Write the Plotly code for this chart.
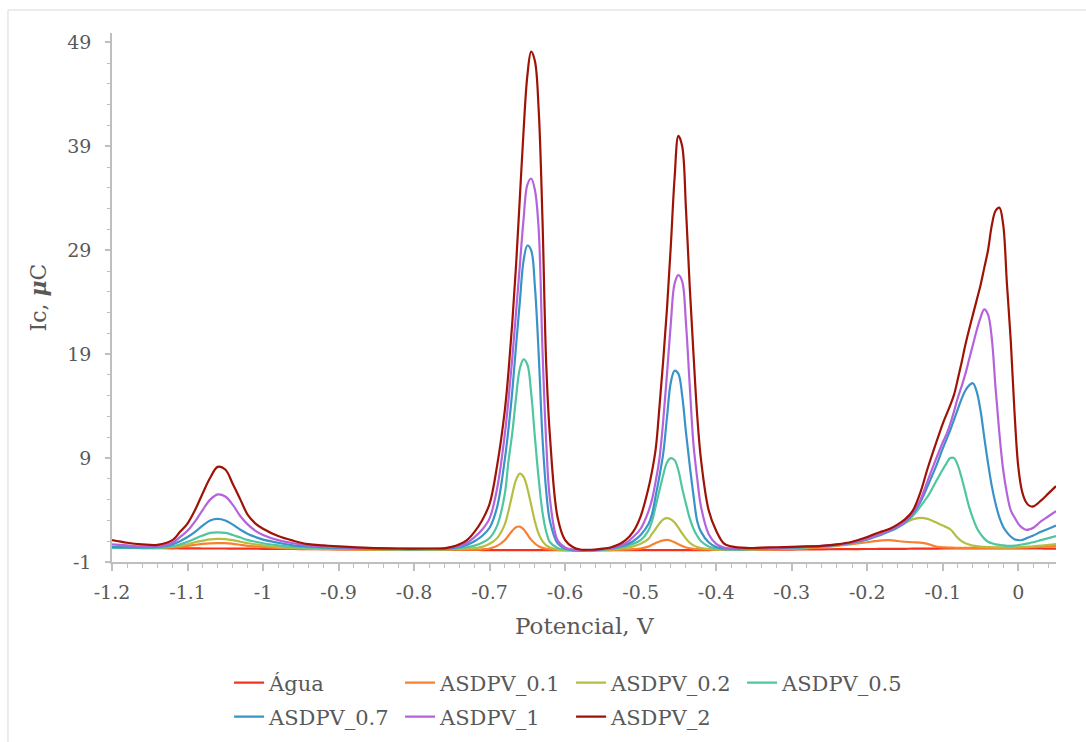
import plotly.graph_objects as go

# Potential (V) sample points
potencial = [
    -1.20, -1.18, -1.16, -1.14, -1.12, -1.11, -1.10, -1.09, -1.08, -1.07, -1.06, -1.05, -1.04, -1.03, -1.02, -1.01, -1.00, -0.98, -0.96, -0.94, -0.92, -0.90,
    -0.86, -0.82, -0.78, -0.76,
    -0.75, -0.74, -0.73, -0.72, -0.71, -0.70, -0.69, -0.68,
    -0.675, -0.67, -0.665, -0.66, -0.655, -0.65, -0.645, -0.64, -0.635, -0.63, -0.625, -0.62,
    -0.61, -0.60, -0.59, -0.58, -0.57, -0.56, -0.55, -0.54, -0.53, -0.52, -0.51, -0.50, -0.49,
    -0.485, -0.48, -0.475, -0.47, -0.465, -0.46, -0.455, -0.45, -0.445, -0.44, -0.435, -0.43, -0.425, -0.42,
    -0.41, -0.40, -0.39, -0.38,
    -0.36, -0.34, -0.32, -0.30, -0.28, -0.26, -0.24, -0.22, -0.20,
    -0.19, -0.18, -0.17, -0.16, -0.15, -0.14, -0.13, -0.12, -0.11, -0.10,
    -0.095, -0.09, -0.085, -0.08, -0.075, -0.07, -0.065, -0.06, -0.055, -0.05, -0.045, -0.04, -0.035, -0.03, -0.025, -0.02, -0.015, -0.01, -0.005, 0.00, 0.005, 0.01, 0.015, 0.02,
    0.03, 0.04, 0.05,
]

agua = [
    0.35, 0.35, 0.34, 0.33, 0.32, 0.32, 0.31, 0.31, 0.30, 0.30, 0.30, 0.30, 0.29, 0.29, 0.28, 0.28, 0.27, 0.26, 0.25, 0.24, 0.23, 0.22,
    0.20, 0.18, 0.17, 0.16,
    0.16, 0.16, 0.16, 0.16, 0.15, 0.15, 0.15, 0.15,
    0.15, 0.15, 0.15, 0.15, 0.15, 0.15, 0.15, 0.15, 0.15, 0.15, 0.15, 0.15,
    0.15, 0.14, 0.14, 0.14, 0.14, 0.14, 0.14, 0.14, 0.14, 0.14, 0.15, 0.15, 0.15,
    0.15, 0.15, 0.15, 0.15, 0.15, 0.15, 0.15, 0.15, 0.15, 0.15, 0.15, 0.15, 0.15, 0.15,
    0.15, 0.16, 0.16, 0.16,
    0.17, 0.18, 0.19, 0.20, 0.21, 0.22, 0.23, 0.24, 0.25,
    0.25, 0.26, 0.26, 0.27, 0.27, 0.28, 0.28, 0.29, 0.29, 0.30,
    0.30, 0.30, 0.30, 0.30, 0.30, 0.30, 0.30, 0.30, 0.30, 0.30, 0.30, 0.30, 0.30, 0.30, 0.30, 0.30, 0.30, 0.30, 0.30, 0.30, 0.30, 0.30, 0.30, 0.30,
    0.30, 0.29, 0.28,
]

asdpv_01 = [
    0.35, 0.35, 0.35, 0.35, 0.40, 0.45, 0.55, 0.65, 0.75, 0.80, 0.82, 0.82, 0.75, 0.65, 0.55, 0.50, 0.45, 0.35, 0.30, 0.26, 0.24, 0.22,
    0.20, 0.19, 0.18, 0.18,
    0.18, 0.18, 0.18, 0.19, 0.22, 0.30, 0.55, 1.10,
    1.55, 2.00, 2.35, 2.40, 2.15, 1.65, 1.15, 0.78, 0.52, 0.36, 0.27, 0.22,
    0.17, 0.14, 0.12, 0.10, 0.11, 0.12, 0.13, 0.15, 0.17, 0.20, 0.24, 0.30, 0.48,
    0.65, 0.82, 0.98, 1.08, 1.12, 1.05, 0.90, 0.70, 0.53, 0.40, 0.32, 0.26, 0.23, 0.21,
    0.19, 0.17, 0.17, 0.17,
    0.18, 0.20, 0.22, 0.26, 0.32, 0.42, 0.55, 0.72, 0.90,
    1.00, 1.08, 1.10, 1.02, 0.95, 0.90, 0.87, 0.75, 0.50, 0.42,
    0.40, 0.38, 0.37, 0.36, 0.35, 0.35, 0.35, 0.35, 0.35, 0.35, 0.35, 0.35, 0.35, 0.35, 0.35, 0.35, 0.36, 0.37, 0.38, 0.39, 0.40, 0.41, 0.42, 0.43,
    0.46, 0.50, 0.55,
]

asdpv_02 = [
    0.35, 0.35, 0.35, 0.36, 0.45, 0.55, 0.70, 0.90, 1.05, 1.18, 1.22, 1.20, 1.10, 0.95, 0.80, 0.70, 0.60, 0.45, 0.36, 0.30, 0.28, 0.25,
    0.22, 0.20, 0.20, 0.20,
    0.22, 0.24, 0.28, 0.33, 0.45, 0.75, 1.30, 2.60,
    3.90, 5.50, 6.90, 7.50, 7.20, 6.10, 4.50, 2.90, 1.70, 1.00, 0.60, 0.40,
    0.22, 0.14, 0.11, 0.10, 0.11, 0.13, 0.16, 0.20, 0.25, 0.35, 0.50, 0.75, 1.20,
    1.70, 2.20, 2.70, 3.10, 3.22, 3.10, 2.80, 2.30, 1.75, 1.25, 0.85, 0.60, 0.45, 0.35,
    0.25, 0.20, 0.20, 0.20,
    0.20, 0.23, 0.27, 0.32, 0.40, 0.48, 0.62, 0.85, 1.20,
    1.45, 1.70, 2.00, 2.35, 2.75, 3.10, 3.25, 3.15, 2.85, 2.50,
    2.35, 2.15, 1.75, 1.30, 1.00, 0.80, 0.68, 0.58, 0.52, 0.48, 0.45, 0.43, 0.42, 0.41, 0.40, 0.40, 0.40, 0.40, 0.41, 0.42, 0.44, 0.46, 0.48, 0.50,
    0.57, 0.64, 0.72,
]

asdpv_05 = [
    0.35, 0.35, 0.35, 0.36, 0.50, 0.70, 0.95, 1.25, 1.55, 1.80, 1.85, 1.80, 1.60, 1.35, 1.10, 0.95, 0.80, 0.60, 0.45, 0.38, 0.33, 0.30,
    0.25, 0.22, 0.22, 0.23,
    0.25, 0.32, 0.42, 0.58, 0.85, 1.30, 2.50, 5.50,
    8.70, 11.4, 14.8, 17.6, 18.5, 18.0, 15.3, 11.0, 7.00, 3.80, 1.90, 0.90,
    0.35, 0.20, 0.12, 0.10, 0.12, 0.15, 0.20, 0.25, 0.35, 0.50, 0.75, 1.10, 2.00,
    2.90, 4.40, 5.90, 7.40, 8.60, 9.00, 8.80, 7.80, 6.10, 4.60, 3.20, 2.20, 1.50, 1.00,
    0.50, 0.30, 0.22, 0.20,
    0.22, 0.26, 0.30, 0.35, 0.42, 0.50, 0.62, 0.82, 1.15,
    1.40, 1.65, 1.95, 2.30, 2.75, 3.40, 4.30, 5.30, 6.60, 7.90,
    8.50, 9.00, 9.00, 8.30, 7.10, 5.70, 4.30, 3.20, 2.30, 1.70, 1.25, 0.95, 0.80, 0.70, 0.65, 0.60, 0.56, 0.55, 0.57, 0.62, 0.68, 0.75, 0.82, 0.90,
    1.10, 1.30, 1.50,
]

asdpv_07 = [
    0.45, 0.40, 0.40, 0.45, 0.70, 1.00, 1.40, 1.90, 2.50, 3.00, 3.15, 3.00, 2.60, 2.10, 1.70, 1.40, 1.15, 0.85, 0.60, 0.50, 0.40, 0.35,
    0.28, 0.25, 0.25, 0.28,
    0.32, 0.45, 0.65, 1.00, 1.50, 2.30, 4.30, 8.80,
    11.8, 15.4, 19.8, 24.0, 28.0, 29.45, 29.0, 25.5, 19.0, 11.0, 5.80, 2.90,
    0.80, 0.30, 0.15, 0.10, 0.12, 0.15, 0.20, 0.30, 0.45, 0.65, 1.00, 1.60, 2.60,
    3.60, 5.40, 7.30, 9.50, 13.0, 16.3, 17.4, 17.1, 15.0, 11.5, 8.30, 5.40, 2.90, 1.90,
    0.90, 0.45, 0.30, 0.25,
    0.25, 0.28, 0.32, 0.38, 0.45, 0.52, 0.65, 0.85, 1.20,
    1.45, 1.70, 2.00, 2.35, 2.80, 3.60, 4.70, 6.30, 8.00, 9.90,
    10.8, 11.7, 12.7, 13.7, 14.7, 15.5, 16.0, 16.2, 15.4, 13.6, 11.0, 8.50, 6.30, 4.60, 3.30, 2.40, 1.85, 1.45, 1.20, 1.10, 1.12, 1.25, 1.40, 1.55,
    1.90, 2.20, 2.50,
]

asdpv_1 = [
    0.70, 0.60, 0.50, 0.50, 0.85, 1.40, 2.00, 2.90, 4.00, 5.00, 5.50, 5.30, 4.50, 3.40, 2.60, 2.00, 1.60, 1.10, 0.80, 0.60, 0.50, 0.42,
    0.32, 0.28, 0.27, 0.30,
    0.40, 0.55, 0.85, 1.40, 2.10, 3.20, 6.10, 11.2,
    14.6, 18.6, 23.0, 27.5, 32.0, 35.3, 35.9, 34.8, 31.0, 19.5, 10.5, 5.00,
    1.10, 0.40, 0.20, 0.12, 0.13, 0.18, 0.25, 0.35, 0.50, 0.80, 1.40, 2.20, 3.80,
    5.00, 6.80, 9.00, 12.7, 17.2, 22.0, 25.8, 26.6, 26.0, 22.0, 16.0, 10.3, 7.00, 4.30,
    1.70, 0.75, 0.40, 0.30,
    0.30, 0.33, 0.37, 0.42, 0.48, 0.55, 0.68, 0.88, 1.25,
    1.50, 1.75, 2.05, 2.40, 2.85, 3.70, 4.90, 6.80, 8.70, 10.5,
    11.3, 12.3, 13.5, 14.8, 15.9, 17.1, 18.5, 19.9, 21.3, 22.5, 23.3, 22.8, 20.5, 15.7, 11.4, 7.90, 5.60, 4.00, 3.30, 2.70, 2.30, 2.10, 2.15, 2.30,
    2.90, 3.40, 3.90,
]

asdpv_2 = [
    1.10, 0.85, 0.70, 0.65, 1.10, 1.90, 2.70, 4.00, 5.60, 7.10, 8.15, 7.90, 6.50, 5.00, 3.50, 2.70, 2.20, 1.50, 1.05, 0.72, 0.60, 0.50,
    0.35, 0.30, 0.30, 0.32,
    0.45, 0.70, 1.10, 1.90, 3.00, 4.60, 8.30, 13.5,
    17.3, 22.0, 27.5, 34.0, 40.5, 45.8, 48.1, 47.2, 42.5, 32.0, 18.0, 11.0,
    3.30, 1.10, 0.45, 0.20, 0.18, 0.20, 0.28, 0.40, 0.65, 1.10, 1.90, 3.40, 6.00,
    7.70, 9.90, 14.0, 18.5, 23.5, 29.5, 36.0, 40.0, 39.0, 33.0, 25.5, 19.0, 13.0, 8.80,
    4.00, 2.00, 0.80, 0.50,
    0.35, 0.38, 0.42, 0.46, 0.50, 0.56, 0.70, 0.95, 1.40,
    1.70, 1.95, 2.20, 2.60, 3.10, 3.90, 5.60, 8.00, 10.2, 12.3,
    13.2, 14.1, 15.1, 16.6, 18.2, 19.9, 21.4, 22.8, 24.2, 25.6, 27.3, 29.0, 31.4, 32.8, 33.1, 31.5, 25.8, 20.4, 13.5, 8.20, 5.80, 4.80, 4.40, 4.35,
    4.90, 5.60, 6.30,
]

series_names = ["Água", "ASDPV_0.1", "ASDPV_0.2", "ASDPV_0.5", "ASDPV_0.7", "ASDPV_1", "ASDPV_2"]
series_values = [agua, asdpv_01, asdpv_02, asdpv_05, asdpv_07, asdpv_1, asdpv_2]
series_colors = ["#F4331E", "#FA7F2E", "#B5BE42", "#4FC6A0", "#3A93C8", "#B563DB", "#9E1306"]
series_legend = ["legend", "legend", "legend", "legend", "legend2", "legend2", "legend2"]

x_tickvals = [-1.2, -1.1, -1.0, -0.9, -0.8, -0.7, -0.6, -0.5, -0.4, -0.3, -0.2, -0.1, 0.0]
x_ticktext = ["-1.2", "-1.1", "-1", "-0.9", "-0.8", "-0.7", "-0.6", "-0.5", "-0.4", "-0.3", "-0.2", "-0.1", "0"]
y_tickvals = [-1, 9, 19, 29, 39, 49]
y_ticktext = ["-1", "9", "19", "29", "39", "49"]

FONT = "DejaVu Serif"
TXT = "#595959"
AX = "#BFBFBF"

fig = go.Figure()
for name, vals, col, lg in zip(series_names, series_values, series_colors, series_legend):
    fig.add_trace(go.Scatter(
        x=potencial, y=vals, name=name, mode="lines", legend=lg,
        line=dict(color=col, width=2.2, shape="spline", smoothing=1.0),
    ))

legend_common = dict(
    orientation="h", xanchor="left", yanchor="middle", xref="paper", yref="container",
    font=dict(family=FONT, size=21, color=TXT),
    entrywidth=126, entrywidthmode="pixels",
    bgcolor="rgba(0,0,0,0)", borderwidth=0, itemclick=False,
)

fig.update_layout(
    width=1086, height=742,
    margin=dict(l=112, r=30, t=33, b=180, autoexpand=False),
    paper_bgcolor="white", plot_bgcolor="white",
    font=dict(family=FONT, color=TXT),
    legend=dict(x=0.124, y=1 - 683 / 742, **legend_common),
    legend2=dict(x=0.124, y=1 - 717 / 742, **legend_common),
    xaxis=dict(
        range=[-1.2, 0.05], tickmode="array", tickvals=x_tickvals, ticktext=x_ticktext,
        showline=True, linecolor=AX, linewidth=1.5, showgrid=False, zeroline=False,
        ticks="outside", ticklen=7, tickcolor=AX, tickwidth=1.5,
        tickfont=dict(family=FONT, size=19, color=TXT), ticklabelstandoff=5,
        minor=dict(ticks="outside", ticklen=4, tickcolor=AX, tickwidth=1.2, dtick=0.02, tick0=0, showgrid=False),
    ),
    yaxis=dict(
        range=[-1, 49.9], tickmode="array", tickvals=y_tickvals, ticktext=y_ticktext,
        showline=True, linecolor=AX, linewidth=1.5, showgrid=False, zeroline=False,
        ticks="outside", ticklen=5, tickcolor=AX, tickwidth=1.5,
        tickfont=dict(family=FONT, size=19, color=TXT), ticklabelstandoff=10,
        minor=dict(ticks="outside", ticklen=3, tickcolor=AX, tickwidth=1.2, dtick=2, tick0=-1, showgrid=False),
    ),
    annotations=[
        dict(text="Potencial, V", xref="paper", yref="paper", x=0.5, y=-0.121,
             xanchor="center", yanchor="middle", showarrow=False,
             font=dict(family=FONT, size=23, color=TXT)),
        dict(text="Ic, <b><i>μ</i></b>C", xref="paper", yref="paper", x=-0.0784, y=0.5,
             xanchor="center", yanchor="middle", showarrow=False, textangle=-90,
             font=dict(family=FONT, size=22, color=TXT)),
    ],
    shapes=[
        dict(type="line", xref="paper", yref="paper", x0=-0.1102, x1=-0.1102, y0=-0.5, y1=1.0435,
             line=dict(color="#D9D9D9", width=1)),
        dict(type="line", xref="paper", yref="paper", x0=-0.1102, x1=1.2, y0=1.0435, y1=1.0435,
             line=dict(color="#D9D9D9", width=1)),
    ],
    showlegend=True,
)

fig.write_html("out.html")
